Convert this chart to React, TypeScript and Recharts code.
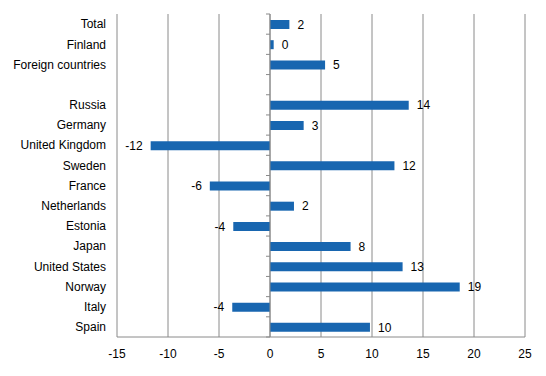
import React from "react";
import * as R from "recharts";
import {
  BarChart,
  Bar,
  XAxis,
  YAxis,
  CartesianGrid,
  ReferenceLine,
  LabelList,
  Customized,
} from "recharts";

const categories = [
  "Total",
  "Finland",
  "Foreign countries",
  " ",
  "Russia",
  "Germany",
  "United Kingdom",
  "Sweden",
  "France",
  "Netherlands",
  "Estonia",
  "Japan",
  "United States",
  "Norway",
  "Italy",
  "Spain",
];

const changes: (number | null)[] = [
  1.9, 0.36, 5.4, null, 13.6, 3.3, -11.7, 12.2, -5.9, 2.35, -3.6, 7.9, 13.0,
  18.6, -3.7, 9.8,
];

const xTicks = [-15, -10, -5, 0, 5, 10, 15, 20, 25];

const data = categories.map((name, i) => ({ name, value: changes[i] }));

const FONT = "'Liberation Sans', Arial, sans-serif";
const BLUE = "#1866b0";
const GRID = "#8a8a8a";
const CHART_W = 546;
const CHART_H = 376;

const renderLabel = (props: any) => {
  const { x, y, width, height, value } = props;
  if (value === null || value === undefined) return null;
  const end = x + width;
  const neg = value < 0;
  return (
    <text
      x={neg ? Math.min(x, end) - 8 : Math.max(x, end) + 8}
      y={y + height / 2}
      dy="0.35em"
      textAnchor={neg ? "end" : "start"}
      fontFamily={FONT}
      fontSize={12}
      fill="#000"
    >
      {Math.round(value)}
    </text>
  );
};

// small tick marks between categories on the zero axis
const ZeroAxisTicks = () => {
  const hook = (R as any).usePlotArea || (R as any).useOffset;
  const area = hook ? hook() : null;
  if (!area) return null;
  const width = area.width ?? CHART_W - area.left - area.right;
  const height = area.height ?? CHART_H - area.top - area.bottom;
  const left = area.x ?? area.left;
  const top = area.y ?? area.top;
  const xMin = xTicks[0];
  const xMax = xTicks[xTicks.length - 1];
  const x0 = left + (width * (0 - xMin)) / (xMax - xMin);
  const n = categories.length;
  return (
    <g>
      {Array.from({ length: n + 1 }, (_, k) => {
        const y = top + (height * k) / n;
        return <line key={k} x1={x0 - 4} x2={x0} y1={y} y2={y} stroke={GRID} />;
      })}
    </g>
  );
};

export default function App() {
  return (
    <div style={{ position: "absolute", left: 0, top: 0 }}>
      <BarChart
        width={CHART_W}
        height={CHART_H}
        data={data}
        layout="vertical"
        margin={{ top: 14, right: 21, bottom: 0, left: 0 }}
        barSize={9}
      >
        <CartesianGrid horizontal={false} stroke={GRID} />
        <XAxis
          type="number"
          domain={[-15, 25]}
          ticks={xTicks}
          interval={0}
          height={39}
          tickLine={false}
          tickMargin={6}
          axisLine={{ stroke: GRID }}
          tick={{ fontFamily: FONT, fontSize: 12, fill: "#000" }}
        />
        <YAxis
          type="category"
          dataKey="name"
          width={117}
          interval={0}
          axisLine={false}
          tickLine={false}
          tickSize={0}
          tickMargin={11}
          tick={{ fontFamily: FONT, fontSize: 12, fill: "#000" }}
        />
        <ReferenceLine x={0} stroke={GRID} />
        <Bar dataKey="value" fill={BLUE} isAnimationActive={false}>
          <LabelList dataKey="value" content={renderLabel} />
        </Bar>
        <Customized component={ZeroAxisTicks} />
      </BarChart>
    </div>
  );
}
